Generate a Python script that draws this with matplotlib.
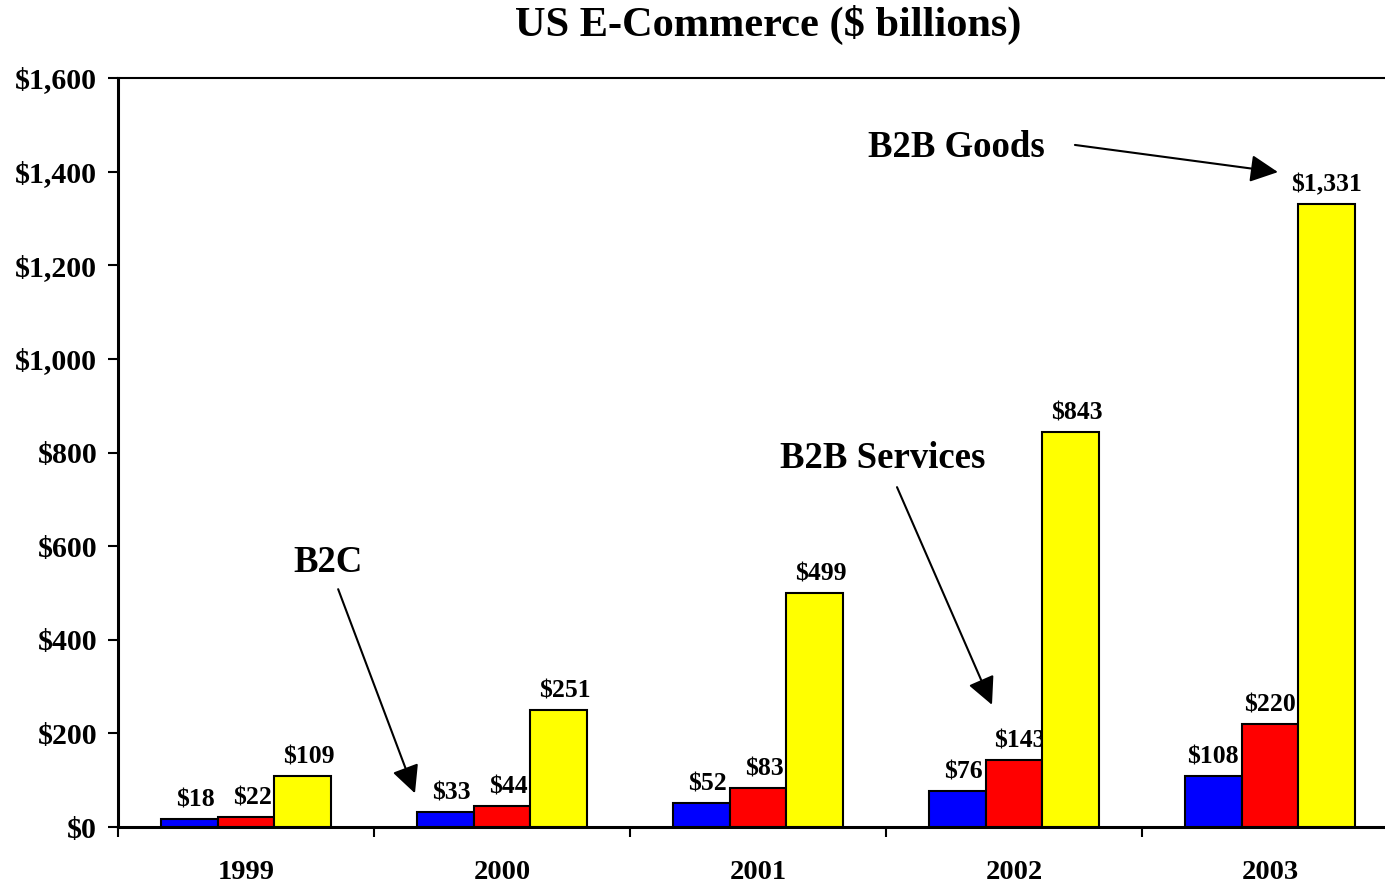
import matplotlib
matplotlib.use("Agg")
import matplotlib.pyplot as plt
from matplotlib.ticker import FuncFormatter, FixedLocator
import numpy as np

plt.rcParams['font.family'] = ['Liberation Serif', 'DejaVu Serif']
plt.rcParams['font.weight'] = 'bold'

years = ['1999', '2000', '2001', '2002', '2003']
b2c = [18, 33, 52, 76, 108]
b2b_services = [22, 44, 83, 143, 220]
b2b_goods = [109, 251, 499, 843, 1331]

series = [b2c, b2b_services, b2b_goods]
colors = ['#0000FF', '#FF0000', '#FFFF00']
# value labels sit a little right of the bar, except in the last group
label_dx = [4.5, 4.5, 4.5, 4.5, 0]

fig = plt.figure(figsize=(13.85, 8.84), dpi=100)
ax = fig.add_axes([118 / 1385, 1 - 827 / 884, 1280 / 1385, 749 / 884])

x = np.arange(len(years))
w = 0.222
for i, (vals, c) in enumerate(zip(series, colors)):
    pos = x + (i - 1) * w
    ax.bar(pos, vals, width=w, color=c, edgecolor='black', linewidth=1.5, zorder=3)
    for px, v, dx in zip(pos, vals, label_dx):
        ax.annotate(f'${v:,}', (px, v), xytext=(dx, 9), textcoords='offset points',
                    ha='center', va='baseline', fontsize=18.5, fontweight='bold')

ax.set_xlim(-0.5, 4.5)
ax.set_ylim(0, 1600)
ax.set_yticks(np.arange(0, 1601, 200))
ax.yaxis.set_major_formatter(FuncFormatter(lambda v, p: f'${v:,.0f}'))

# category boundaries carry the ticks, labels sit at the centres
ax.xaxis.set_major_locator(FixedLocator(np.arange(-0.5, 5, 1)))
ax.xaxis.set_minor_locator(FixedLocator(x))
ax.set_xticklabels([], minor=False)
ax.set_xticklabels(years, minor=True)
ax.tick_params(axis='x', which='major', direction='out', length=7, width=1.5)
ax.tick_params(axis='x', which='minor', length=0, pad=24, labelsize=20.5)
ax.tick_params(axis='y', direction='out', length=7, width=1.5, pad=8, labelsize=21.5)
for lab in ax.get_xticklabels(minor=True) + ax.get_yticklabels():
    lab.set_fontweight('bold')

ax.spines['right'].set_visible(False)
for s in ['left', 'bottom']:
    ax.spines[s].set_linewidth(2.2)
ax.spines['top'].set_linewidth(1.5)

arrow = dict(arrowstyle='-|>,head_length=0.85,head_width=0.42', mutation_scale=20,
             color='black', lw=1.5, shrinkA=0, shrinkB=0)
notes = [
    ('B2C', (0.320, 564), (0.360, 508), (0.660, 72)),
    ('B2B Services', (2.488, 788), (2.543, 726), (2.914, 261)),
    ('B2B Goods', (2.773, 1452), (3.238, 1457), (4.031, 1399)),
]
for txt, tpos, start, tip in notes:
    ax.text(tpos[0], tpos[1], txt, ha='center', va='center', fontsize=26.5, fontweight='bold')
    ax.annotate('', xy=tip, xytext=start, arrowprops=arrow)

fig.text(768 / 1385, 1 - 25 / 884, 'US E-Commerce ($ billions)', ha='center', va='center',
         fontsize=30.5, fontweight='bold')

fig.savefig('out.png', dpi=100)
